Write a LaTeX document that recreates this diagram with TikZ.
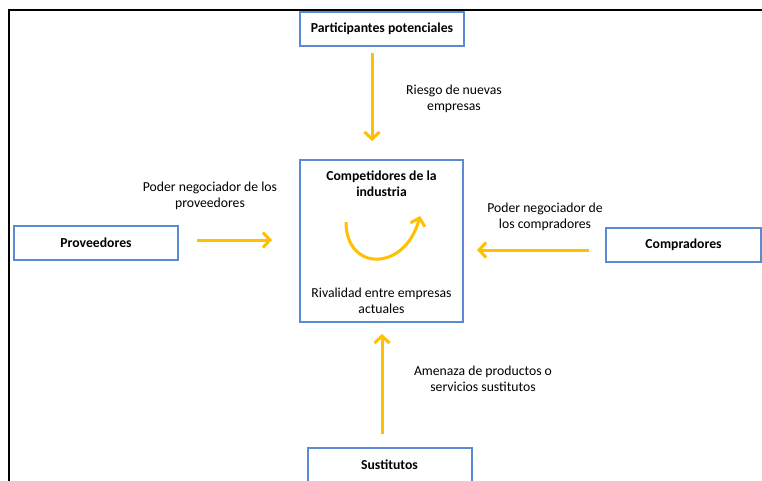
\documentclass[tikz,border=0pt]{standalone}
\usepackage{fontspec}
\setmainfont{Carlito}
\usetikzlibrary{arrows.meta,positioning}
\definecolor{boxblue}{HTML}{5A8AD0}
\definecolor{flowyellow}{HTML}{FFC000}
\tikzstyle{force}=[draw=boxblue, line width=2pt, fill=white, minimum width=164pt, minimum height=34pt, inner sep=0, font=\fontsize{13.7}{16}\selectfont\bfseries]
\tikzstyle{flow}=[draw=flowyellow, line width=3pt, -{Straight Barb[length=7pt,width=15pt]}]
\tikzstyle{lbl}=[align=center, inner sep=0, font=\fontsize{13.7}{16}\selectfont]

\begin{document}
\begin{tikzpicture}[x=1pt, y=-1pt]
\useasboundingbox (0,0) rectangle (762,480);

% outer frame
\draw [line width=2.5pt] (9,500) |- (790,10);

\node [force] (part) at (382,29) {Participantes potenciales};
\node [force] (prov) at (96,243) {Proveedores};
\node [force, minimum width=155pt] (buy) at (683.5,244.5) {Compradores};
\node [force] (sust) at (389.5,465) {Sustitutos};
\node [force, minimum width=163pt, minimum height=162pt] (comp) at (381.5,241) {};

\node [lbl, font=\fontsize{13.7}{16}\selectfont\bfseries] (compt) at (381.5,184) {Competidores de la\\industria};
\node [lbl] (riv) at (381.5,300.5) {Rivalidad entre empresas\\actuales};

\node [lbl] (lpart) at (454,98.5) {Riesgo de nuevas\\empresas};
\node [lbl] (lprov) at (210,196) {Poder negociador de los\\proveedores};
\node [lbl] (lbuy) at (545,217) {Poder negociador de\\los compradores};
\node [lbl] (lsust) at (483,379) {Amenaza de productos o\\servicios sustitutos};

\coordinate (rivS) at (346,222);
\coordinate (rivE) at (420,216);

\draw [flow] ([xshift=-10pt,yshift=-6pt]part.south) -- ([xshift=-9.5pt,yshift=18pt]comp.north);
\draw [flow] ([xshift=18pt,yshift=3pt]prov.east) -- ([xshift=-27pt,yshift=1pt]comp.west);
\draw [flow] ([xshift=-16pt,yshift=-5.5pt]buy.west) -- ([xshift=13pt,yshift=-9pt]comp.east);
\draw [flow] ([xshift=-7.5pt,yshift=13pt]sust.north) -- ([xshift=0.5pt,yshift=-11pt]comp.south);

\draw [flow] (rivS) .. controls (346,272) and (405,272) .. (rivE);

\end{tikzpicture}
\end{document}
